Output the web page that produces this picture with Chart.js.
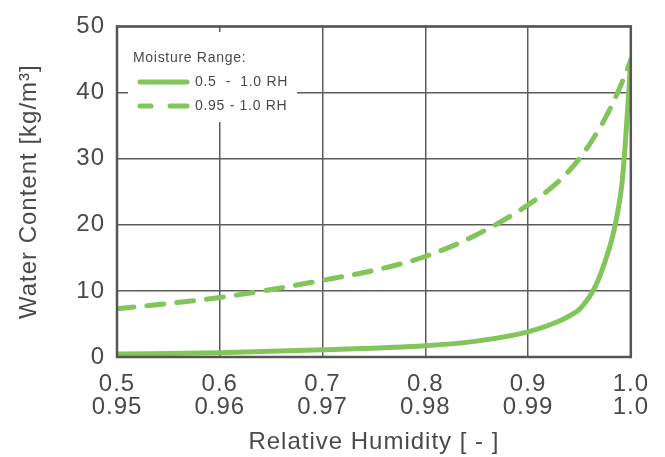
<!DOCTYPE html>
<html>
<head>
<meta charset="utf-8">
<script src="https://cdn.jsdelivr.net/npm/chart.js@4.4.0/dist/chart.umd.min.js"></script>
<style>
  html, body { margin: 0; padding: 0; background: #fff; }
  #wrap { width: 665px; height: 457px; }
</style>
</head>
<body>
<div id="wrap"><canvas id="graph-canvas" width="665" height="457"></canvas></div>
<script>
// tick labels (two rows on the x axis)
var xTicksTop = ['0.5', '0.6', '0.7', '0.8', '0.9', '1.0'];
var xTicksBottom = ['0.95', '0.96', '0.97', '0.98', '0.99', '1.0'];

// 0.5 - 1.0 RH curve
var rhWide = [0.5, 0.6, 0.7, 0.8, 0.85, 0.9, 0.93, 0.94, 0.95, 0.956, 0.9625, 0.969, 0.975, 0.982, 0.987, 0.9915, 0.9945, 0.997, 1.0];
var wcWide = [0.45, 0.65, 1.1, 1.7, 2.4, 3.8, 5.4, 6.2, 7.2, 8.3, 9.8, 11.9, 14.5, 18.1, 21.7, 26.4, 32.0, 37.8, 44.9];

// 0.95 - 1.0 RH curve
var rhNarrow = [0.95, 0.955, 0.96, 0.965, 0.97, 0.975, 0.98, 0.985, 0.99, 0.993, 0.995, 0.996, 0.997, 0.998, 0.999, 1.0];
var wcNarrow = [7.3, 8.1, 9.0, 10.2, 11.6, 13.1, 15.2, 18.5, 23.0, 26.6, 30.0, 32.2, 34.7, 37.6, 41.0, 44.9];

var green = '#82c55a';
var txt = '#4a4a4a';
var grid = '#5c5c5c';
var fam = '"Liberation Sans", Arial, sans-serif';

function pts(xs, ys) {
	var out = [];
	for (var i in xs) out.push({x: xs[i], y: ys[i]});
	return out;
}

// slightly wider text, like the original
var spacingPlugin = {
	id: 'spacing',
	beforeUpdate: function(chart) { chart.ctx.letterSpacing = '1px'; },
	beforeDraw: function(chart) { chart.ctx.letterSpacing = '1px'; }
};

// border box + legend inside the plot
var framePlugin = {
	id: 'frame',
	afterDraw: function(chart) {
		var c = chart.ctx, a = chart.chartArea;
		c.save();
		c.letterSpacing = '0.7px';
		// legend box
		c.fillStyle = '#fff';
		c.fillRect(128, 32, 169, 90);
		c.fillStyle = txt;
		c.font = '14px ' + fam;
		c.textBaseline = 'middle';
		c.fillText('Moisture Range:', 133, 58);
		c.fillText('0.5  -  1.0 RH', 195, 82);
		c.fillText('0.95 - 1.0 RH', 195, 106);
		c.strokeStyle = green;
		c.lineWidth = 5;
		c.lineCap = 'round';
		c.beginPath(); c.moveTo(140, 82); c.lineTo(187, 82); c.stroke();
		c.beginPath(); c.moveTo(140, 106); c.lineTo(151, 106); c.stroke();
		c.beginPath(); c.moveTo(170, 106); c.lineTo(187, 106); c.stroke();
		// frame
		c.strokeStyle = '#555';
		c.lineWidth = 2.5;
		c.lineCap = 'butt';
		c.strokeRect(a.left, a.top, a.right - a.left, a.bottom - a.top);
		c.restore();
	}
};

var ctx = document.getElementById('graph-canvas');

var chart = new Chart(ctx, {
	type: 'line',
	data: {
		datasets: [
			{
				label: '0.5 - 1.0 RH',
				data: pts(rhWide, wcWide),
				xAxisID: 'x',
				borderColor: green,
				borderWidth: 5,
				pointRadius: 0,
				fill: false,
				cubicInterpolationMode: 'monotone',
				borderCapStyle: 'round',
				borderJoinStyle: 'round'
			},
			{
				label: '0.95 - 1.0 RH',
				data: pts(rhNarrow, wcNarrow),
				xAxisID: 'x2',
				borderColor: green,
				borderWidth: 5,
				borderDash: [17, 13],
				borderCapStyle: 'round',
				pointRadius: 0,
				fill: false,
				cubicInterpolationMode: 'monotone'
			}
		]
	},
	options: {
		responsive: false,
		animation: false,
		layout: { padding: { top: 17, right: 33, left: 0, bottom: 0 } },
		plugins: {
			legend: { display: false },
			tooltip: { enabled: false }
		},
		scales: {
			x: {
				type: 'linear',
				min: 0.5,
				max: 1.0,
				afterBuildTicks: function(axis) {
					axis.ticks = xTicksTop.map(function(t) { return {value: parseFloat(t)}; });
				},
				ticks: {
					color: txt,
					font: { family: fam, size: 24, lineHeight: 0.96 },
					padding: 16,
					maxRotation: 0,
					autoSkip: false,
					callback: function(v, i) { return [xTicksTop[i], xTicksBottom[i]]; }
				},
				grid: { color: grid, lineWidth: 1.5, drawTicks: false },
				border: { display: false },
				title: {
					display: true,
					text: 'Relative Humidity [ - ]',
					color: txt,
					font: { family: fam, size: 24 },
					padding: { top: 4, bottom: 0 }
				},
				afterFit: function(axis) { axis.height = 100; }
			},
			x2: {
				type: 'linear',
				display: false,
				min: 0.95,
				max: 1.0
			},
			y: {
				min: 0,
				max: 50,
				ticks: {
					stepSize: 10,
					color: txt,
					font: { family: fam, size: 24 },
					padding: 12
				},
				grid: { color: grid, lineWidth: 1.5, drawTicks: false },
				border: { display: false },
				title: {
					display: true,
					text: 'Water Content [kg/m³]',
					color: txt,
					font: { family: fam, size: 24 },
					padding: { top: 15, bottom: 10 }
				},
				afterFit: function(axis) { axis.width = 117; }
			}
		}
	},
	plugins: [spacingPlugin, framePlugin]
});
</script>
</body>
</html>
